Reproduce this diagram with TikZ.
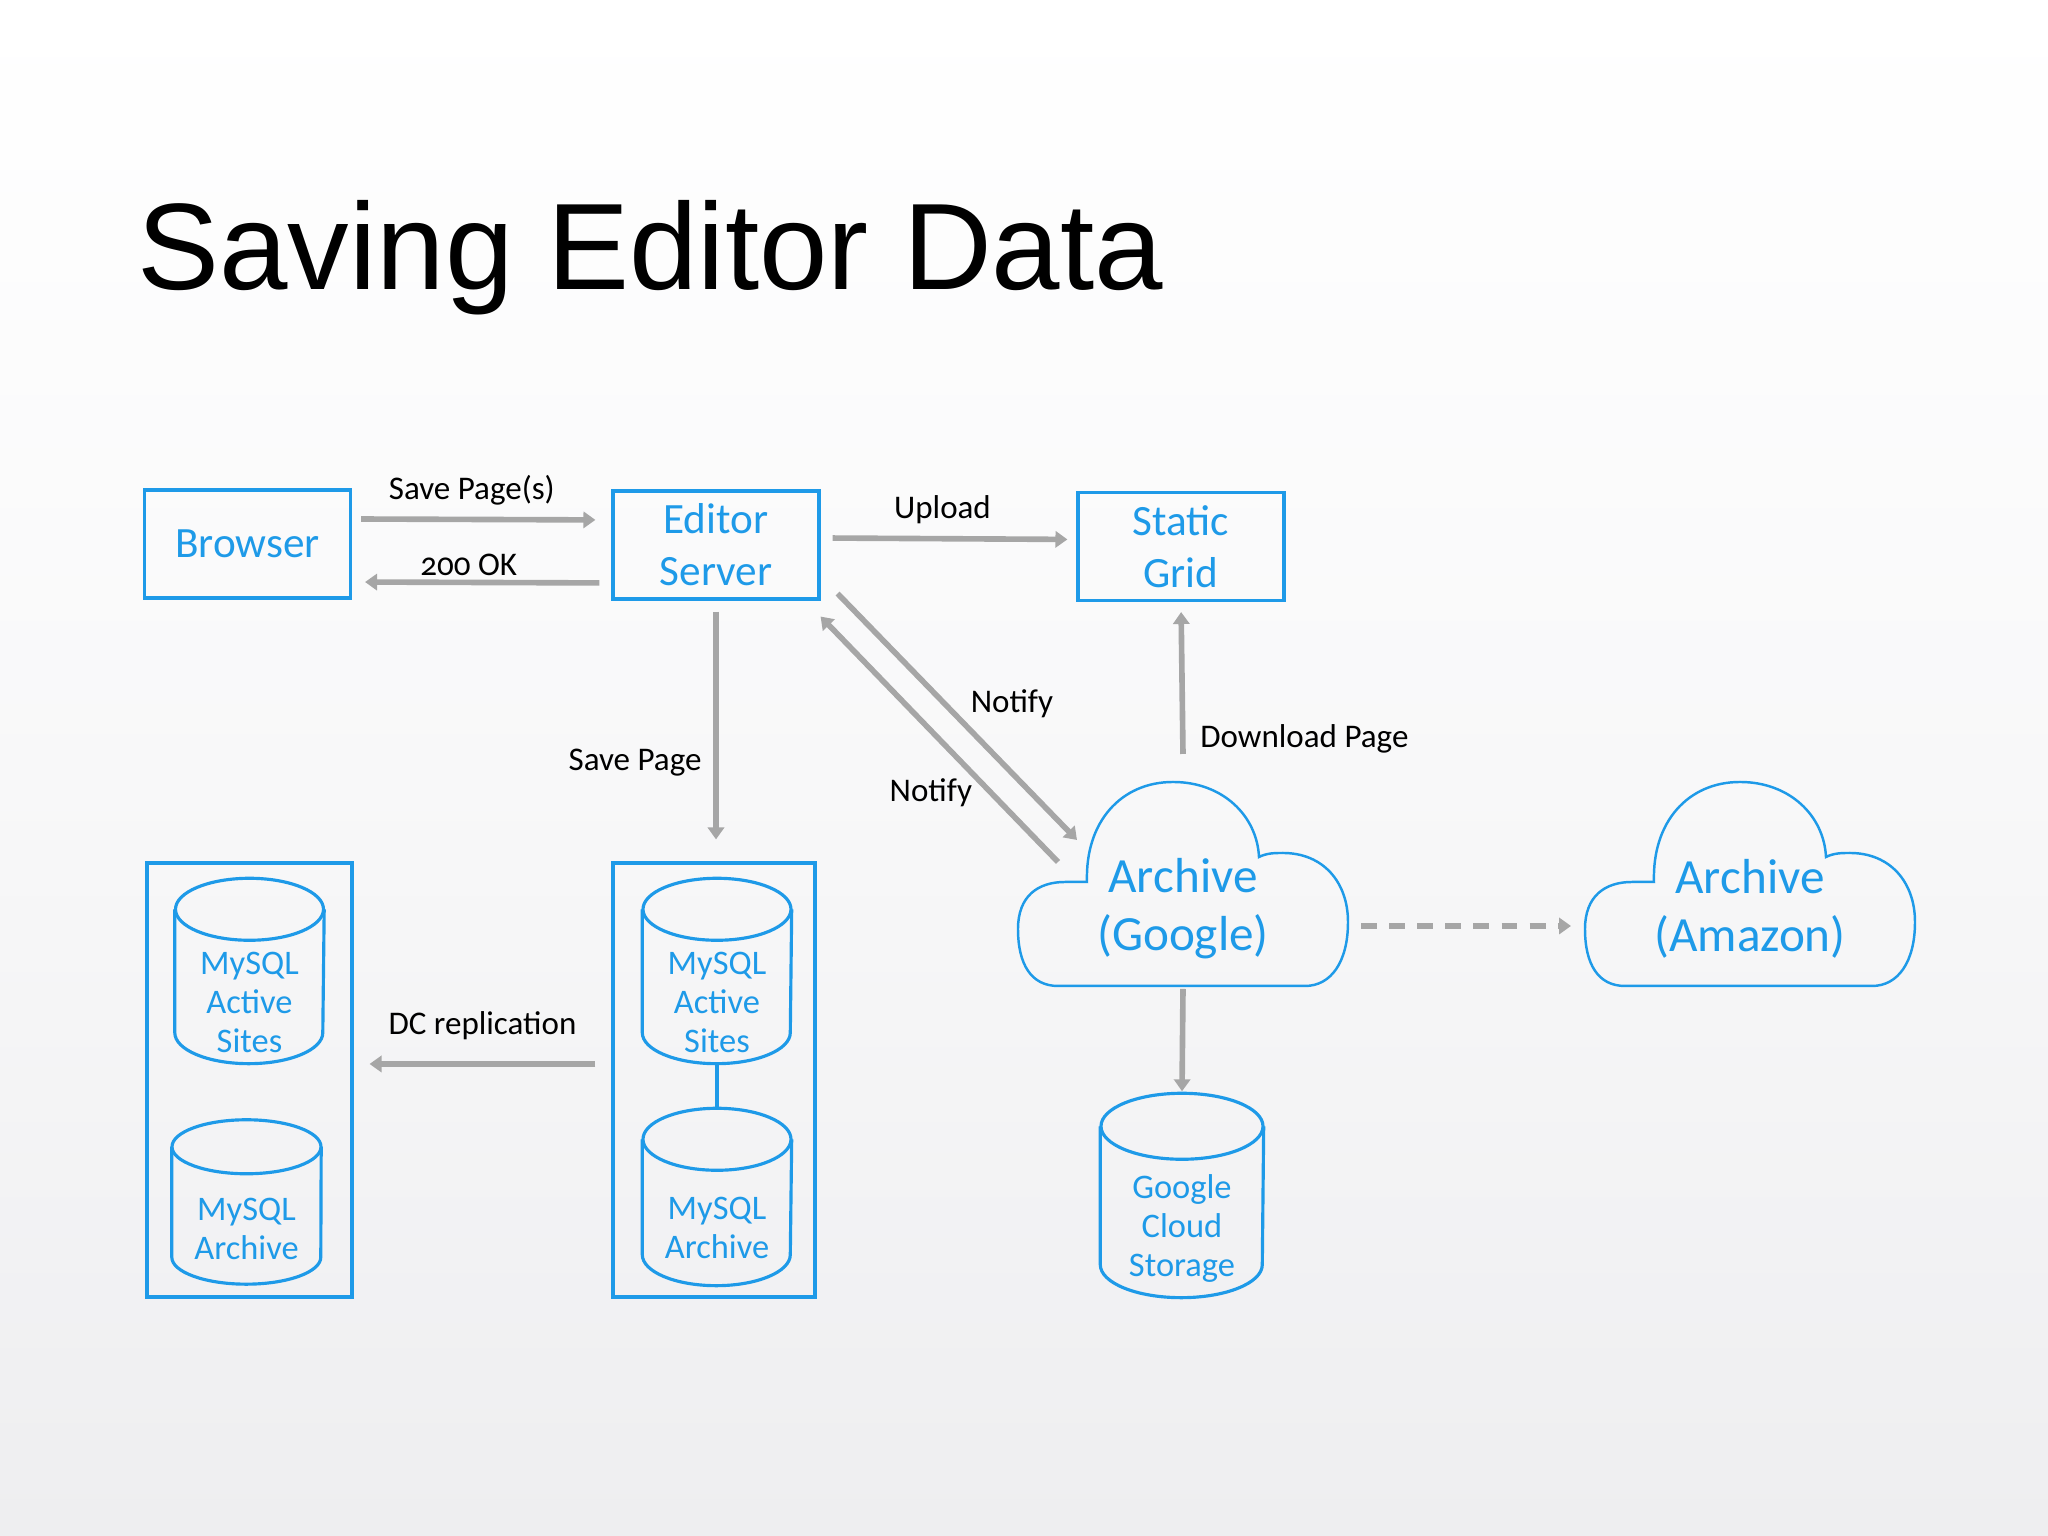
\documentclass[tikz,border=0pt]{standalone}
\usepackage{fontspec}
\setmainfont{Carlito}[Numbers=OldStyle]
\newfontfamily\titlefont{Liberation Sans}
\usetikzlibrary{arrows.meta,positioning}
\definecolor{skyBlue}{HTML}{1E9AE8}
\definecolor{arrGray}{HTML}{A6A6A6}
\definecolor{bgLow}{HTML}{EEEEF0}
% outline of a database drum round node #1: x radius #2, y radius #3
\newcommand\drum[3]{%
  \draw[dbline] ([yshift=#3]#1.north west) -- ([yshift=#3]#1.south west)
    arc[start angle=180,end angle=360,x radius=#2,y radius=#3] -- ([yshift=#3]#1.north east);
  \draw[dbline] ([yshift=#3]#1.north) ellipse[x radius=#2,y radius=#3]}

\begin{document}
\begin{tikzpicture}[
      box/.style={draw=skyBlue,line width=0.9pt,text=skyBlue,minimum width=2.06cm,
                  minimum height=1.08cm,align=center,font=\fontsize{12.3}{14.8}\selectfont},
      rack/.style={draw=skyBlue,line width=0.9pt,minimum width=2.05cm,minimum height=4.34cm},
      db/.style={minimum width=1.48cm,inner sep=0pt,text=skyBlue,align=center,
                 font=\fontsize{9.8}{11.1}\selectfont},
      dbline/.style={draw=skyBlue,line width=0.9pt},
      cloudtxt/.style={text=skyBlue,align=center,font=\fontsize{14}{16.5}\selectfont},
      lbl/.style={text=black,font=\fontsize{9.4}{11}\selectfont},
      arr/.style={-{Triangle[length=3.4pt,width=4.6pt]},arrGray,line width=1.6pt},
      cloudline/.style={draw=skyBlue,line width=0.7pt}]
    % slide background
    \shade[top color=white,bottom color=bgLow,middle color=white!60!bgLow]
      (0,0) rectangle (20.48,15.36);
    \useasboundingbox (0,0) rectangle (20.48,15.36);

    \node[anchor=base west,font=\titlefont\fontsize{35}{40}\selectfont] (ttl) at (1.25,12.46) {Saving Editor Data};

    % top row
    \node[box] (b)  at (2.475,9.92)  {Browser};
    \node[box] (e)  at (7.16,9.91)   {Editor\\Server};
    \node[box] (sg) at (11.81,9.895) {Static\\Grid};

    % data centres
    \node[rack] (dcl) at (2.495,4.56) {};
    \node[rack,minimum width=2.02cm] (dcr) at (7.14,4.56) {};
    \node[db,minimum height=1.22cm] (la) at (2.495,5.34) {MySQL\\Active\\Sites};
    \node[db,minimum height=1.09cm] (lr) at (2.465,3.07) {MySQL\\Archive};
    \node[db,minimum height=1.22cm] (ra) at (7.17,5.34) {MySQL\\Active\\Sites};
    \node[db,minimum height=1.14cm] (rr) at (7.17,3.08) {MySQL\\Archive};
    \node[db,minimum height=1.37cm,minimum width=1.62cm] (gcs) at (11.82,3.075) {Google\\Cloud\\Storage};
    \drum{la}{0.74cm}{0.31cm};
    \drum{lr}{0.745cm}{0.27cm};
    \drum{ra}{0.74cm}{0.31cm};
    \drum{rr}{0.74cm}{0.31cm};
    \drum{gcs}{0.81cm}{0.33cm};

    % archives
    \node[cloudtxt] (g) at (11.83,6.27) {Archive\\(Google)};
    \node[cloudtxt] (a) at (17.50,6.27) {Archive\\(Amazon)};
    \foreach \c in {g,a}
      \draw[cloudline,shift={(\c)},yshift=2.5mm]
        (-1.25,-1.02) .. controls (-1.52,-1.02) and (-1.65,-0.80) .. (-1.65,-0.45)
        .. controls (-1.65,-0.12) and (-1.45,0.02) .. (-1.18,0.02) -- (-0.96,0.02)
        .. controls (-0.98,0.62) and (-0.62,1.02) .. (-0.10,1.02)
        .. controls (0.40,1.02) and (0.74,0.68) .. (0.76,0.27)
        .. controls (0.84,0.31) and (0.92,0.31) .. (1.00,0.31)
        .. controls (1.40,0.31) and (1.65,0.02) .. (1.65,-0.38)
        .. controls (1.65,-0.78) and (1.48,-1.02) .. (1.22,-1.02) -- cycle;

    % connectors
    \draw[arr,shorten <=0.9mm,shorten >=1.6mm] ([yshift=2.5mm]b.east) -- ([yshift=2.5mm]e.west)
      node[midway,above=0pt,xshift=-1mm,lbl] {Save Page(s)};
    \draw[arr,shorten <=1.2mm,shorten >=1.3mm] ([yshift=-3.8mm]e.west) -- ([yshift=-3.8mm]b.east)
      node[midway,above=0pt,xshift=-1.3mm,inner sep=1pt,lbl] {200 OK};
    \draw[arr,shorten <=1.2mm,shorten >=0.9mm] ([yshift=0.7mm]e.east) -- ([yshift=0.7mm]sg.west)
      node[midway,above=0pt,xshift=-0.6mm,lbl] {Upload};
    \draw[arr,shorten <=1.1mm,shorten >=2.2mm] (e.south) -- (e.south |- dcr.north)
      node[pos=0.62,left,lbl] {Save Page};
    \draw[arr] ([shift={(0.17,0.07)}]e.south east) -- ([shift={(-1.06,0.69)}]g.center)
      node[pos=0.53,anchor=south west,inner sep=1pt,lbl] {Notify};
    \draw[arr] ([shift={(-1.25,0.47)}]g.center) -- ([yshift=-1.6mm]e.south east)
      node[pos=0.35,anchor=north east,inner sep=0pt,lbl] {Notify};
    \draw[arr,shorten >=1mm] ([yshift=1.55cm]g.center) -- (sg.south)
      node[pos=0.1,right=0.3mm,lbl] {Download Page};
    \draw[arr,shorten >=0.2mm] ([yshift=-8mm]g.center) -- ([yshift=6.6mm]gcs.north);
    \draw[arr,dash pattern=on 4.5pt off 3.5pt] ([shift={(1.78,-0.17)}]g.center) -- ([shift={(-1.79,-0.17)}]a.center);
    \draw[arr,shorten <=1.6mm,shorten >=1.6mm] ([yshift=1.6mm]dcr.west) -- ([yshift=1.6mm]dcl.east)
      node[midway,above=1mm,lbl] {DC replication};
    \draw[dbline] (ra.south) -- ([yshift=6.2mm]rr.north);
  \end{tikzpicture}
\end{document}
